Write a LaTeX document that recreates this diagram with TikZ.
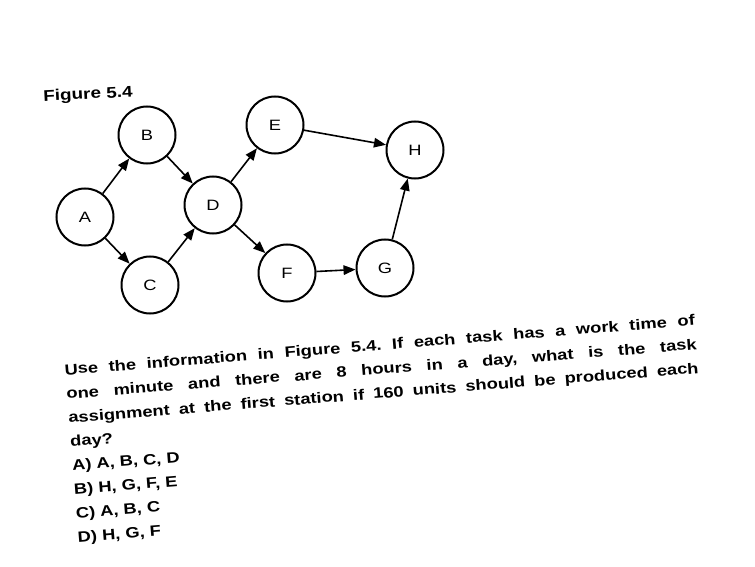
\documentclass[tikz,border=0pt]{standalone}
\usepackage{fontspec}
\setmainfont{Liberation Sans}[FakeStretch=1.22]
\usetikzlibrary{arrows.meta}

\begin{document}
\frenchspacing
\begin{tikzpicture}[x=1pt,y=-1pt,
    task/.style={circle, draw, line width=2pt, minimum size=57pt, inner sep=0pt, font=\fontsize{15}{15}\selectfont},
    link/.style={-{Triangle[length=12pt,width=9.5pt]}, line width=1.6pt}]
    \useasboundingbox (0,0) rectangle (755,567);
    % caption of the figure
    \node[font=\bfseries\fontsize{15.5}{17}\selectfont, rotate=3] (caption) at (88,95) {Figure 5.4};
    % tasks
    \foreach \name/\x/\y in {A/85/217, B/147/135, C/150/285, D/213/205, E/275/125, F/287/273, G/385/268, H/415/150}
        \node[task] (\name) at (\x,\y) {\name};
    % precedence
    \foreach \from/\to in {A/B, A/C, B/D, C/D, D/E, D/F, E/H, F/G, G/H}
        \draw[link] (\from) -- (\to);
    % question and answers
    \node[anchor=north west, inner sep=0pt, rotate=4.5, text width=632pt, align=justify,
          font=\bfseries\fontsize{15}{24}\selectfont] (question) at (64,364)
        {Use the information in Figure 5.4. If each task has a work time of\linebreak
         one minute and there are 8 hours in a day, what is the task\linebreak
         assignment at the first station if 160 units should be produced each\linebreak
         day?\\
         A) A, B, C, D\\
         B) H, G, F, E\\
         C) A, B, C\\
         D) H, G, F};
\end{tikzpicture}
\end{document}
